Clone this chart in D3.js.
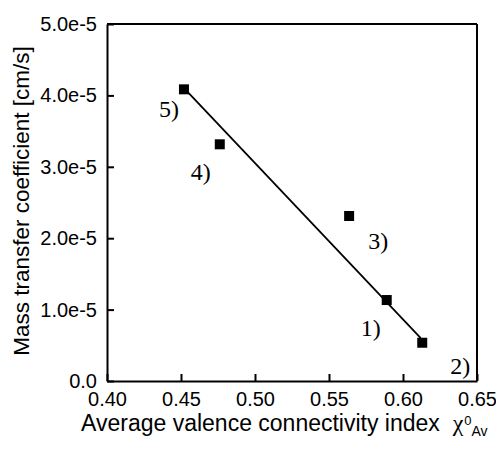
<!DOCTYPE html>
<html>
<head>
<meta charset="utf-8">
<script src="https://cdn.jsdelivr.net/npm/d3@7"></script>
<style>
body { margin: 0; background: #fff; }
svg { display: block; }
</style>
</head>
<body>
<div id="content"></div>
<script>
// samples
var sampleLabels = ["1)", "2)", "3)", "4)", "5)"];
var chiValues = [0.589, 0.613, 0.5636, 0.4762, 0.452];
var kValues = [1.134e-5, 0.536e-5, 2.311e-5, 3.315e-5, 4.085e-5];
// fitted straight line (two end points)
var fitChi = [0.453, 0.612];
var fitK = [4.08e-5, 0.60e-5];
var xTicks = [0.40, 0.45, 0.50, 0.55, 0.60, 0.65];
var yTicks = [0, 1e-5, 2e-5, 3e-5, 4e-5, 5e-5];

// where the "n)" labels sit relative to their point (px)
var labelOffset = [[-16, 28], [38, 23], [29, 25], [-19, 27], [-15, 19]];

var W = 496, H = 449;
var margin = {top: 24, right: 19, bottom: 68, left: 107};
var width = W - margin.left - margin.right,
    height = H - margin.top - margin.bottom;

var svg = d3.select("#content").append("svg")
    .attr("width", W)
    .attr("height", H);

var g = svg.append("g")
    .attr("transform", "translate(" + margin.left + "," + margin.top + ")");

var x = d3.scaleLinear().domain([0.40, 0.65]).range([0, width]);
var y = d3.scaleLinear().domain([0, 5e-5]).range([height, 0]);

var sans = "'Liberation Sans', Arial, Helvetica, sans-serif";
var serif = "'Liberation Serif', 'Times New Roman', serif";

// axes, ticks pointing inward
var xAxis = g.append("g")
    .attr("transform", "translate(0," + height + ")")
    .call(d3.axisBottom(x).tickValues(xTicks).tickSizeInner(-7).tickSizeOuter(0)
        .tickPadding(11).tickFormat(d3.format(".2f")));

var yAxis = g.append("g")
    .call(d3.axisLeft(y).tickValues(yTicks).tickSizeInner(-7).tickSizeOuter(0)
        .tickPadding(10).tickFormat(function(d) { return d === 0 ? "0.0" : d.toExponential(1); }));

[xAxis, yAxis].forEach(function(a) {
    a.select(".domain").attr("stroke", "#000").attr("stroke-width", 2);
    a.selectAll(".tick line").attr("stroke", "#000").attr("stroke-width", 2);
    a.selectAll(".tick text").attr("fill", "#000")
        .style("font-family", sans).style("font-size", "20px");
});

// top and right frame lines
g.append("line").attr("x1", 0).attr("x2", width).attr("y1", 0).attr("y2", 0)
    .attr("stroke", "#000").attr("stroke-width", 2);
g.append("line").attr("x1", width).attr("x2", width).attr("y1", 0).attr("y2", height)
    .attr("stroke", "#000").attr("stroke-width", 2);

// fit line
var line = d3.line()
    .x(function(d) { return x(d[0]); })
    .y(function(d) { return y(d[1]); });

g.append("path")
    .datum(d3.zip(fitChi, fitK))
    .attr("d", line)
    .attr("fill", "none")
    .attr("stroke", "#000")
    .attr("stroke-width", 1.8);

// points
var pts = d3.zip(chiValues, kValues);
var s = 10;
g.selectAll(".pt")
    .data(pts)
  .enter().append("rect")
    .attr("class", "pt")
    .attr("x", function(d) { return x(d[0]) - s / 2; })
    .attr("y", function(d) { return y(d[1]) - s / 2; })
    .attr("width", s)
    .attr("height", s)
    .attr("fill", "#000");

g.selectAll(".lbl")
    .data(pts)
  .enter().append("text")
    .attr("class", "lbl")
    .attr("x", function(d, i) { return x(d[0]) + labelOffset[i][0]; })
    .attr("y", function(d, i) { return y(d[1]) + labelOffset[i][1]; })
    .attr("dy", "0.35em")
    .attr("text-anchor", "middle")
    .style("font-family", serif)
    .style("font-size", "24px")
    .text(function(d, i) { return sampleLabels[i]; });

// axis titles
svg.append("text")
    .attr("transform", "translate(29,201) rotate(-90)")
    .attr("text-anchor", "middle")
    .style("font-family", sans)
    .style("font-size", "22.5px")
    .text("Mass transfer coefficient [cm/s]");

var xt = svg.append("text")
    .attr("x", 81)
    .attr("y", 431)
    .style("font-family", sans)
    .style("font-size", "23px");
xt.append("tspan").text("Average valence connectivity index\u00a0\u00a0");
xt.append("tspan").style("font-family", serif).style("font-size", "24px").text("\u03c7");
xt.append("tspan").attr("dy", -6).attr("dx", 1).style("font-size", "13px").text("0");
xt.append("tspan").attr("dy", 11).style("font-size", "14px").text("Av");
</script>
</body>
</html>
